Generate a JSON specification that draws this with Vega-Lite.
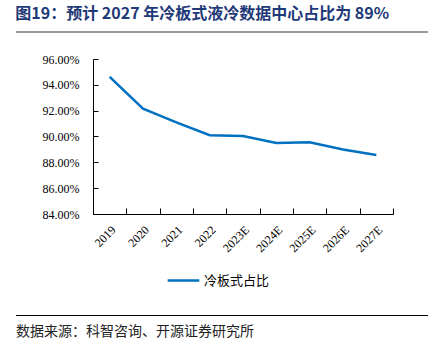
{
  "$schema": "https://vega.github.io/schema/vega-lite/v6.json",
  "padding": {"left": 15, "right": 21, "top": 6, "bottom": 0},
  "background": "white",
  "title": {"text": "图19：预计 2027 年冷板式液冷数据中心占比为 89%", "anchor": "start", "font": "Noto Sans CJK SC", "fontSize": 16, "fontWeight": "bold", "color": "#1F3A78", "offset": 7},
  "spacing": 18,
  "config": {"view": {"stroke": null}, "font": "Liberation Serif"},
  "data": {"values": [
    {"year": "2019", "share": 0.9462, "series": "冷板式占比"},
    {"year": "2020", "share": 0.9216, "series": "冷板式占比"},
    {"year": "2021", "share": 0.9110, "series": "冷板式占比"},
    {"year": "2022", "share": 0.9010, "series": "冷板式占比"},
    {"year": "2023E", "share": 0.9004, "series": "冷板式占比"},
    {"year": "2024E", "share": 0.8950, "series": "冷板式占比"},
    {"year": "2025E", "share": 0.8956, "series": "冷板式占比"},
    {"year": "2026E", "share": 0.8900, "series": "冷板式占比"},
    {"year": "2027E", "share": 0.8857, "series": "冷板式占比"}
  ]},
  "vconcat": [
    {
      "width": 412, "height": 2,
      "view": {"fill": "#9A9A9A", "stroke": null},
      "mark": {"type": "point", "opacity": 0},
      "encoding": {}
    },
    {
      "width": 377, "height": 155,
      "mark": {"type": "line", "strokeWidth": 2.5},
      "encoding": {
        "x": {"field": "year", "type": "ordinal", "sort": null, "bandPosition": 0.5,
          "scale": {"type": "band", "paddingInner": 0, "paddingOuter": 0, "range": [77, 377]},
          "axis": {"title": null, "labelAngle": -45, "tickBand": "extent", "labelFontSize": 12, "labelFont": "Liberation Serif", "labelColor": "#000", "domainColor": "#000", "tickColor": "#000", "tickSize": -6, "labelPadding": 16, "grid": false, "minExtent": 80}},
        "y": {"field": "share", "type": "quantitative",
          "scale": {"domain": [0.84, 0.96], "nice": false, "zero": false},
          "axis": {"title": null, "format": ".2%", "values": [0.84, 0.86, 0.88, 0.90, 0.92, 0.94, 0.96], "offset": -77, "grid": false, "labelFontSize": 12, "labelFont": "Liberation Serif", "labelColor": "#000", "domainColor": "#000", "tickColor": "#000", "tickSize": -5, "labelPadding": 19}},
        "color": {"field": "series", "type": "nominal", "scale": {"range": ["#0070C0"]},
          "legend": {"title": null, "orient": "none", "legendX": 147, "legendY": 229, "symbolType": "stroke", "symbolSize": 1000, "symbolStrokeWidth": 2.5, "labelFont": "Noto Sans CJK SC", "labelFontSize": 13, "labelColor": "#000", "labelOffset": 3, "padding": 3}}
      }
    },
    {
      "width": 412, "height": 1,
      "view": {"fill": "#000000", "stroke": null},
      "mark": {"type": "point", "opacity": 0},
      "encoding": {},
      "title": {"text": "数据来源：科智咨询、开源证券研究所", "orient": "bottom", "anchor": "start", "font": "Noto Sans CJK SC", "fontSize": 14, "fontWeight": "normal", "color": "#222", "offset": 7}
    }
  ]
}
